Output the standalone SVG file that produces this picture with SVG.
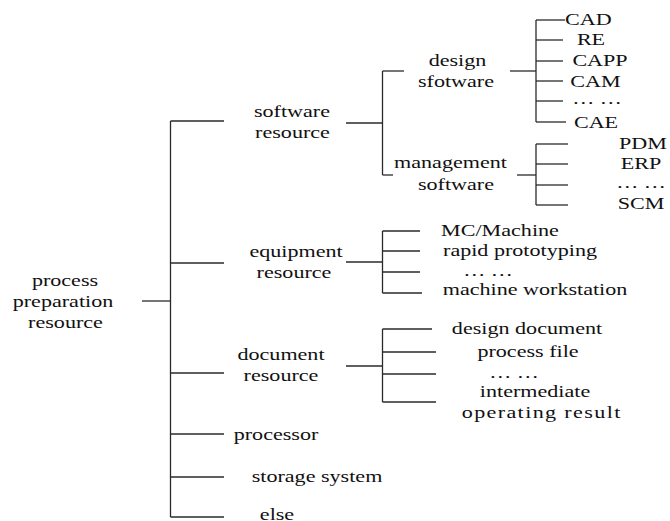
<svg xmlns="http://www.w3.org/2000/svg" width="670" height="521" viewBox="0 0 670 521">
<style>
.t{font-family:'Liberation Serif','Times New Roman','DejaVu Serif',serif;font-size:17px;fill:#111;text-anchor:middle}
.c line{stroke:#2a2a2a;stroke-width:1.3;fill:none}
</style>
<rect width="670" height="521" fill="#fff"/>
<g class="c" id="connectors">
<line x1="170.5" y1="121" x2="170.5" y2="517"/>
<line x1="142" y1="301" x2="170.5" y2="301"/>
<line x1="170.5" y1="121" x2="224" y2="121"/>
<line x1="170.5" y1="263" x2="224" y2="263"/>
<line x1="170.5" y1="373" x2="224" y2="373"/>
<line x1="170.5" y1="434" x2="224" y2="434"/>
<line x1="170.5" y1="477" x2="224" y2="477"/>
<line x1="170.5" y1="517" x2="224" y2="517"/>
<line x1="346" y1="123" x2="382.5" y2="123"/>
<line x1="382.5" y1="71" x2="382.5" y2="175"/>
<line x1="382.5" y1="71" x2="404" y2="71"/>
<line x1="382.5" y1="175" x2="393" y2="175"/>
<line x1="510" y1="71" x2="536" y2="71"/>
<line x1="536" y1="20" x2="536" y2="122"/>
<line x1="536" y1="20" x2="565" y2="20"/>
<line x1="536" y1="40" x2="563" y2="40"/>
<line x1="536" y1="61" x2="563" y2="61"/>
<line x1="536" y1="81" x2="563" y2="81"/>
<line x1="536" y1="101" x2="563" y2="101"/>
<line x1="536" y1="122" x2="566" y2="122"/>
<line x1="517" y1="175" x2="536" y2="175"/>
<line x1="536" y1="144" x2="536" y2="205"/>
<line x1="536" y1="144" x2="568" y2="144"/>
<line x1="536" y1="164" x2="568" y2="164"/>
<line x1="536" y1="185" x2="568" y2="185"/>
<line x1="536" y1="205" x2="568" y2="205"/>
<line x1="346" y1="262" x2="382.5" y2="262"/>
<line x1="382.5" y1="231" x2="382.5" y2="293"/>
<line x1="382.5" y1="231" x2="420" y2="231"/>
<line x1="382.5" y1="251" x2="420" y2="251"/>
<line x1="382.5" y1="272" x2="420" y2="272"/>
<line x1="382.5" y1="293" x2="422" y2="293"/>
<line x1="346" y1="366" x2="382.5" y2="366"/>
<line x1="382.5" y1="329" x2="382.5" y2="402"/>
<line x1="382.5" y1="329" x2="432" y2="329"/>
<line x1="382.5" y1="352" x2="436" y2="352"/>
<line x1="382.5" y1="374" x2="436" y2="374"/>
<line x1="382.5" y1="402" x2="436" y2="402"/>
</g>
<g id="root"><text class="t" transform="translate(65,286) scale(1.3,1)">process</text><text class="t" transform="translate(63,307) scale(1.3,1)">preparation</text><text class="t" transform="translate(65.5,328) scale(1.3,1)">resource</text></g>
<g id="software"><text class="t" transform="translate(292,117) scale(1.3,1)">software</text><text class="t" transform="translate(292.5,138) scale(1.3,1)">resource</text></g>
<g id="equipment"><text class="t" transform="translate(296,257) scale(1.3,1)">equipment</text><text class="t" transform="translate(294,278) scale(1.3,1)">resource</text></g>
<g id="document"><text class="t" transform="translate(281,360) scale(1.3,1)">document</text><text class="t" transform="translate(281,381) scale(1.3,1)">resource</text></g>
<g id="processor"><text class="t" transform="translate(276,440) scale(1.3,1)">processor</text></g>
<g id="storage"><text class="t" transform="translate(317,482) scale(1.3,1)">storage system</text></g>
<g id="else"><text class="t" transform="translate(277,520) scale(1.3,1)">else</text></g>
<g id="design"><text class="t" transform="translate(457.5,66) scale(1.3,1)">design</text><text class="t" transform="translate(456,87) scale(1.3,1)">sfotware</text></g>
<g id="management"><text class="t" transform="translate(450.5,168) scale(1.3,1)">management</text><text class="t" transform="translate(456,190) scale(1.3,1)">software</text></g>
<g id="cad"><text class="t" transform="translate(588.3,25) scale(1.3,1)">CAD</text></g>
<g id="re"><text class="t" transform="translate(591,45) scale(1.3,1)">RE</text></g>
<g id="capp"><text class="t" transform="translate(600,66) scale(1.3,1)">CAPP</text></g>
<g id="cam"><text class="t" transform="translate(595.5,86.5) scale(1.3,1)">CAM</text></g>
<g id="dots1"><text class="t" transform="translate(597,104) scale(1.3,1)">… …</text></g>
<g id="cae"><text class="t" transform="translate(596,127.5) scale(1.3,1)">CAE</text></g>
<g id="pdm"><text class="t" transform="translate(643,149) scale(1.3,1)">PDM</text></g>
<g id="erp"><text class="t" transform="translate(641,169) scale(1.3,1)">ERP</text></g>
<g id="dots2"><text class="t" transform="translate(641,188) scale(1.3,1)">… …</text></g>
<g id="scm"><text class="t" transform="translate(641,209) scale(1.3,1)">SCM</text></g>
<g id="mc"><text class="t" transform="translate(500,236) scale(1.3,1)">MC/Machine</text></g>
<g id="rapid"><text class="t" transform="translate(520,256) scale(1.3,1)">rapid prototyping</text></g>
<g id="dots3"><text class="t" transform="translate(488,276) scale(1.3,1)">… …</text></g>
<g id="workstation"><text class="t" transform="translate(535,295) scale(1.3,1)">machine workstation</text></g>
<g id="designdoc"><text class="t" transform="translate(527,334) scale(1.3,1)">design document</text></g>
<g id="processfile"><text class="t" transform="translate(528,357) scale(1.3,1)">process file</text></g>
<g id="dots4"><text class="t" transform="translate(514,378) scale(1.3,1)">… …</text></g>
<g id="intermediate"><text class="t" transform="translate(535,397) scale(1.3,1)">intermediate</text><text class="t" transform="translate(541,418) scale(1.3,1)" textLength="122" lengthAdjust="spacing">operating result</text></g>
</svg>
